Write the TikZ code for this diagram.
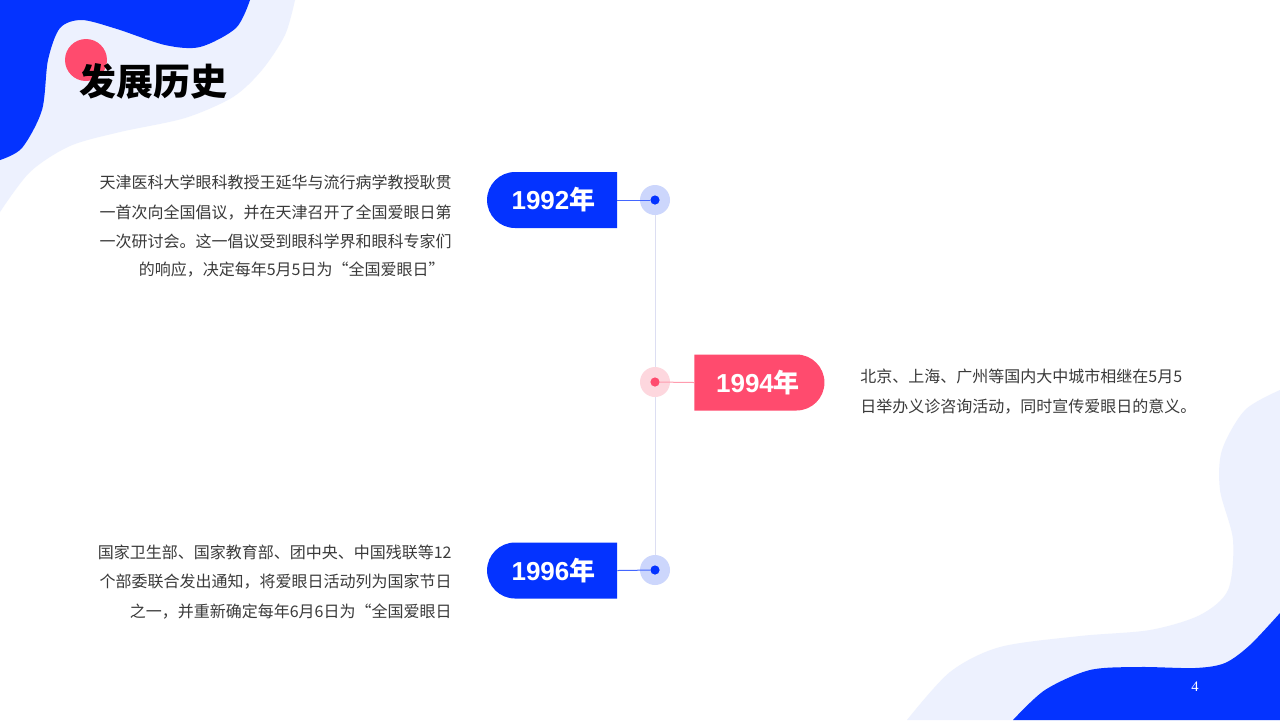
\documentclass[tikz,border=0pt]{standalone}
\usepackage{fontspec}
\usetikzlibrary{shapes.misc}
\newfontfamily\cjk{Noto Sans CJK SC}
\newfontfamily\latin{Liberation Sans}
\newfontfamily\pgnum{Liberation Serif}
\definecolor{mainblue}{HTML}{0433FF}
\definecolor{paleblue}{HTML}{EDF1FE}
\definecolor{mainpink}{HTML}{FF4B6E}
\definecolor{haloblue}{HTML}{CCD6FC}
\definecolor{halopink}{HTML}{FDD7DE}
\definecolor{axisline}{HTML}{DCDEF2}
\definecolor{bodytext}{HTML}{3A3A3A}
\newcommand{\yr}[1]{{\latin\bfseries #1}{\cjk\bfseries 年}}
\tikzset{
  yearbox/.style={rounded rectangle, minimum width=65pt, minimum height=28pt, inner sep=0pt,
    text=white, font=\fontsize{13}{13}\selectfont},
  halo/.style={circle, minimum size=15pt, inner sep=0pt},
  dot/.style={circle, minimum size=4.6pt, inner sep=0pt},
  bodyline/.style={inner sep=0pt, text=bodytext, font=\cjk\fontsize{8}{8}\selectfont},
}
\begin{document}
\begin{tikzpicture}[x=0.5pt,y=-0.5pt]
\useasboundingbox (0,0) rectangle (1280,720);
\fill[white] (0,0) rectangle (1280,720);
% background blobs
\fill[paleblue] (0,0) -- plot[smooth] coordinates {(295,0) (285,35) (262,70) (233,97) (185,118) (120,132) (70,146) (30,172) (0,212)} -- cycle;
\fill[mainblue] (0,0) -- plot[smooth] coordinates {(250,0) (236,28) (200,47) (165,45) (117,29) (82,20) (60,28) (48,60) (42,110) (22,148) (0,160)} -- cycle;
\fill[paleblue] (1280,720) -- plot[smooth] coordinates {(907,720) (950,672) (1000,647) (1080,636) (1150,630) (1200,615) (1228,590) (1233,540) (1220,490) (1222,450) (1245,410) (1280,390)} -- cycle;
\fill[mainblue] (1280,720) -- plot[smooth] coordinates {(1013,720) (1045,690) (1090,670) (1140,667) (1195,668) (1225,663) (1250,645) (1280,613)} -- cycle;
% title
\fill[mainpink] (86,60) circle[radius=21];
\node[anchor=west, inner sep=0pt, font=\cjk\bfseries\fontsize{18.5}{18.5}\selectfont] (title) at (79,81) {发展历史};
% timeline axis
\node[halo, fill=haloblue] (h1) at (655,200) {};
\node[halo, fill=halopink] (h2) at (655,382) {};
\node[halo, fill=haloblue] (h3) at (655,570) {};
\draw[axisline, line width=0.5pt] (h1.south) -- (h2.north);
\draw[axisline, line width=0.5pt] (h2.south) -- (h3.north);
\node[dot, fill=mainblue] (d1) at (h1) {};
\node[dot, fill=mainpink] (d2) at (h2) {};
\node[dot, fill=mainblue] (d3) at (h3) {};
% year boxes
\node[yearbox, fill=mainblue, rounded rectangle east arc=none] (y1) at (553.5,200) {\yr{1992}};
\node[yearbox, fill=mainpink, rounded rectangle west arc=none] (y2) at (758,382.5) {\yr{1994}};
\node[yearbox, fill=mainblue, rounded rectangle east arc=none] (y3) at (553.5,570.5) {\yr{1996}};
\draw[mainblue!75, line width=0.5pt] (y1.east) -- (d1);
\draw[mainpink!55, line width=0.5pt] (y2.west) -- (d2);
\draw[mainblue!75, line width=0.5pt] (y3.east) -- (d3);
% texts 1992
\node[bodyline, anchor=base east] (t1a) at (452,188) {天津医科大学眼科教授王延华与流行病学教授耿贯};
\node[bodyline, anchor=base east] (t1b) at (452,218) {一首次向全国倡议，并在天津召开了全国爱眼日第};
\node[bodyline, anchor=base east] (t1c) at (452,247) {一次研讨会。这一倡议受到眼科学界和眼科专家们};
\node[bodyline, anchor=base east] (t1d) at (445,275) {的响应，决定每年5月5日为“全国爱眼日”};
% texts 1994
\node[bodyline, anchor=base west] (t2a) at (860,382) {北京、上海、广州等国内大中城市相继在5月5};
\node[bodyline, anchor=base west] (t2b) at (860,412) {日举办义诊咨询活动，同时宣传爱眼日的意义。};
% texts 1996
\node[bodyline, anchor=base east] (t3a) at (452,558) {国家卫生部、国家教育部、团中央、中国残联等12};
\node[bodyline, anchor=base east] (t3b) at (452,587) {个部委联合发出通知，将爱眼日活动列为国家节日};
\node[bodyline, anchor=base east] (t3c) at (452,617) {之一，并重新确定每年6月6日为“全国爱眼日};
% page number
\node[inner sep=0pt, text=white, font=\pgnum\fontsize{7.3}{7.3}\selectfont] (pg) at (1195,687) {4};
\end{tikzpicture}
\end{document}
